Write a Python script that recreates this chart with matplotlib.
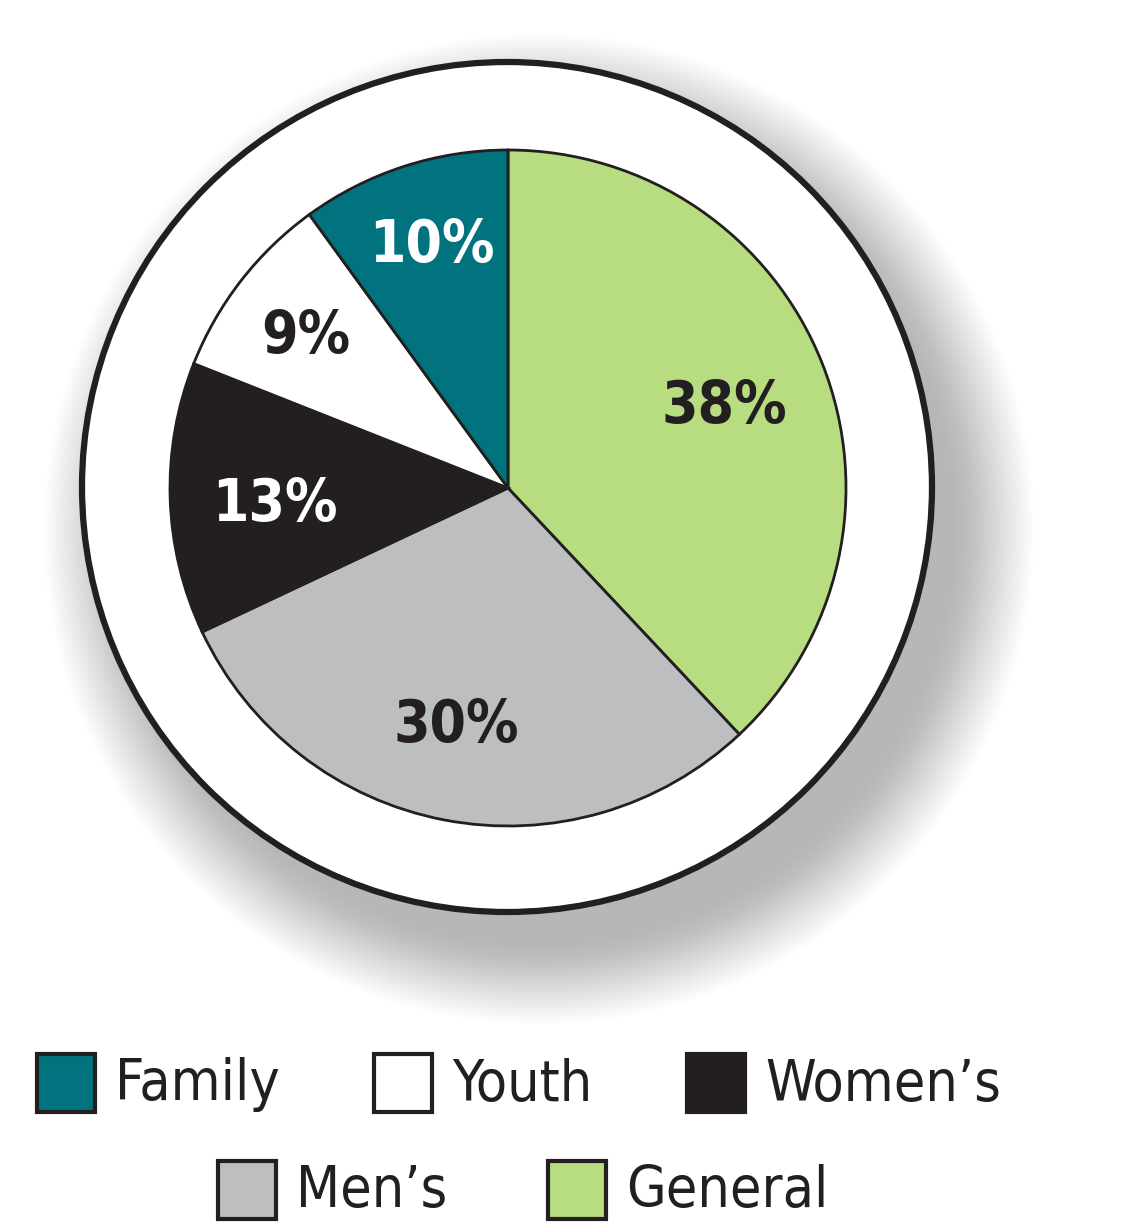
import matplotlib.pyplot as plt
from matplotlib.patches import Circle, Rectangle

# data, clockwise from 12 o'clock
labels = ['General', "Men\u2019s", "Women\u2019s", 'Youth', 'Family']
shares = [38, 30, 13, 9, 10]
colors = ['#b7dd80', '#bcbec0', '#231f20', '#ffffff', '#00737f']
pct_colors = ['#231f20', '#231f20', '#ffffff', '#231f20', '#ffffff']

# legend order as in the picture
legend_order = ['Family', 'Youth', "Women\u2019s", "Men\u2019s", 'General']

W, H = 1129, 1231
fig = plt.figure(figsize=(W / 100, H / 100), dpi=100)
ax = fig.add_axes([0, 0, 1, 1])
ax.set_xlim(0, W)
ax.set_ylim(0, H)
ax.set_aspect('equal')
ax.axis('off')

cx, cy = 507, H - 487
r_out = 425
r_pie = 338

# soft drop shadow (down-right)
n = 40
for i in range(n):
    rr = r_out - 10 + 80 * (1 - i / n)
    ax.add_patch(Circle((cx + 32, cy - 42), rr, color='#6a6a6a',
                        alpha=0.013, lw=0, zorder=1))

# outer ring
ax.add_patch(Circle((cx, cy), r_out, facecolor='white', edgecolor='#231f20',
                    lw=4.5, zorder=2))

fam = ['DejaVu Sans']
wedges, texts, autotexts = ax.pie(
    shares, colors=colors, startangle=90, counterclock=False,
    center=(cx + 1, cy - 1), radius=r_pie, autopct='%.0f%%', pctdistance=0.72,
    wedgeprops=dict(edgecolor='#231f20', linewidth=2.0),
    textprops=dict(fontsize=42, fontweight='bold', family=fam,
                   fontstretch='condensed'))
# small nudges of the percentage labels (pixels)
nudge = [(-10, -8), (-6, 2), (10, -9), (-10, 2), (-1, 11)]
for w in wedges:
    w.set_zorder(3)
for t, c, (dx, dy) in zip(autotexts, pct_colors, nudge):
    x, y = t.get_position()
    t.set_position((x + dx, y + dy))
    t.set_color(c)
    t.set_zorder(4)
ax.set_xlim(0, W)
ax.set_ylim(0, H)

# legend, two rows
leg_pos = [(37, 1083), (374, 1083), (687, 1083), (218, 1190), (548, 1190)]
col_of = dict(zip(labels, colors))
for name, (x, y) in zip(legend_order, leg_pos):
    Y = H - y
    ax.add_patch(Rectangle((x, Y - 29), 58, 58, facecolor=col_of[name],
                           edgecolor='#231f20', lw=3, zorder=5))
    ax.text(x + 78, Y - 2, name, fontsize=41, family=fam,
            fontstretch='condensed', color='#231f20',
            va='center', ha='left', zorder=5)

fig.savefig('out.png', dpi=100, facecolor='white')
